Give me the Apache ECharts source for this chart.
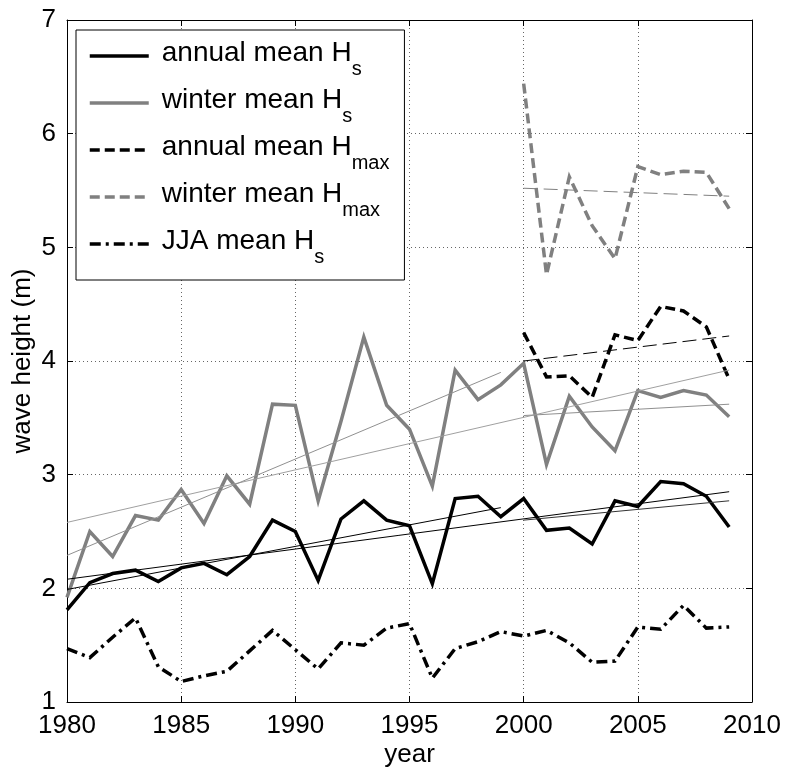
<!DOCTYPE html>
<html><head><meta charset="utf-8">
<script src="https://cdn.jsdelivr.net/npm/echarts@6/dist/echarts.min.js"></script>
<style>html,body{margin:0;padding:0;background:#fff}#chart{width:788px;height:773px}</style>
</head><body><div id="chart"></div>
<script>
// ---- data ----
const years = [1980,1981,1982,1983,1984,1985,1986,1987,1988,1989,1990,1991,1992,1993,1994,1995,1996,1997,1998,1999,2000,2001,2002,2003,2004,2005,2006,2007,2008,2009];
const annualHs = [1.81,2.05,2.13,2.16,2.06,2.18,2.22,2.12,2.28,2.60,2.50,2.07,2.61,2.77,2.60,2.55,2.04,2.79,2.81,2.63,2.79,2.51,2.53,2.39,2.77,2.72,2.94,2.92,2.81,2.54];
const winterHs = [1.92,2.50,2.28,2.64,2.60,2.87,2.57,2.99,2.74,3.62,3.61,2.77,3.47,4.21,3.61,3.40,2.90,3.92,3.66,3.79,3.98,3.09,3.69,3.42,3.21,3.74,3.68,3.74,3.70,3.51];
const jjaHs = [1.47,1.39,1.57,1.74,1.31,1.18,1.23,1.27,1.45,1.63,1.46,1.29,1.52,1.50,1.65,1.69,1.21,1.47,1.53,1.62,1.58,1.63,1.52,1.35,1.36,1.66,1.64,1.85,1.65,1.66];
const yearsMax = [2000,2001,2002,2003,2004,2005,2006,2007,2008,2009];
const annualHmax = [4.25,3.86,3.87,3.68,4.23,4.18,4.48,4.44,4.30,3.84];
const winterHmax = [6.44,4.76,5.62,5.19,4.90,5.71,5.64,5.67,5.66,5.34];

// trend lines (end points)
const trendYearsAll = [1980, 2009];
const trendYearsEarly = [1980, 1999];
const trendYearsLate = [2000, 2009];
const trendAnnualAll = [2.08, 2.85];
const trendAnnualEarly = [1.99, 2.71];
const trendAnnualLate = [2.60, 2.77];
const trendWinterAll = [2.58, 3.92];
const trendWinterEarly = [2.29, 3.90];
const trendWinterLate = [3.52, 3.62];
const trendAnnualHmax = [4.00, 4.22];
const trendWinterHmax = [5.52, 5.45];

const xTicks = {min: 1980, max: 2010, interval: 5};
const yTicks = {min: 1, max: 7, interval: 1};

const seriesNames = ['annual mean Hs','winter mean Hs','annual mean Hmax','winter mean Hmax','JJA mean Hs'];
const legendRich = {
  'annual mean Hs': '{m|annual mean H}{s|s}',
  'winter mean Hs': '{m|winter mean H}{s|s}',
  'annual mean Hmax': '{m|annual mean H}{s|max}',
  'winter mean Hmax': '{m|winter mean H}{s|max}',
  'JJA mean Hs': '{m|JJA mean H}{s|s}'
};

// ---- chart ----
const FONT = '"Liberation Sans", Arial, Helvetica, sans-serif';
const GRAY = '#808080';
const pairs = (xs, ys) => xs.map((x, i) => [x, ys[i]]);

function mainLine(name, xs, ys, color, type) {
  return {name, type: 'line', data: pairs(xs, ys), symbol: 'none', silent: true, z: 3,
    lineStyle: {color, width: 3.5, type, cap: 'butt', join: 'miter'}, itemStyle: {color}};
}
function trendLine(id, xs, ys, color, type) {
  return {name: id, type: 'line', data: pairs(xs, ys), symbol: 'none', silent: true, z: 4,
    lineStyle: {color, width: 1, type}, itemStyle: {color}};
}

const chart = echarts.init(document.getElementById('chart'), null, {renderer: 'canvas'});
chart.setOption({
  animation: false,
  backgroundColor: '#fff',
  grid: {left: 67, right: 36, top: 20, bottom: 67, containLabel: false},
  xAxis: [{
    type: 'value', min: xTicks.min, max: xTicks.max, interval: xTicks.interval,
    name: 'year', nameLocation: 'middle', nameGap: 40, nameMoveOverlap: false,
    nameTextStyle: {fontFamily: FONT, fontSize: 26, color: '#000'},
    axisLine: {show: true, lineStyle: {color: '#000', width: 1}},
    axisTick: {show: true, inside: true, length: 6, lineStyle: {color: '#000'}},
    axisLabel: {fontFamily: FONT, fontSize: 26, color: '#000', margin: 11, showMinLabel: true, showMaxLabel: true,
      formatter: v => String(v)},
    splitLine: {show: true, lineStyle: {color: '#666', type: [1, 3], width: 1}}
  }, {
    type: 'value', position: 'top', min: xTicks.min, max: xTicks.max, interval: xTicks.interval,
    axisLine: {show: true, lineStyle: {color: '#000', width: 1}},
    axisTick: {show: true, inside: true, length: 6, lineStyle: {color: '#000'}},
    axisLabel: {show: false}, splitLine: {show: false}
  }],
  yAxis: [{
    type: 'value', min: yTicks.min, max: yTicks.max, interval: yTicks.interval,
    name: 'wave height (m)', nameLocation: 'middle', nameGap: 31, nameMoveOverlap: false,
    nameTextStyle: {fontFamily: FONT, fontSize: 26, color: '#000'},
    axisLine: {show: true, lineStyle: {color: '#000', width: 1}},
    axisTick: {show: true, inside: true, length: 6, lineStyle: {color: '#000'}},
    axisLabel: {fontFamily: FONT, fontSize: 26, color: '#000', margin: 11, showMinLabel: true, showMaxLabel: true,
      formatter: v => String(v)},
    splitLine: {show: true, lineStyle: {color: '#666', type: [1, 3], width: 1}}
  }, {
    type: 'value', position: 'right', min: yTicks.min, max: yTicks.max, interval: yTicks.interval,
    axisLine: {show: true, lineStyle: {color: '#000', width: 1}},
    axisTick: {show: true, inside: true, length: 6, lineStyle: {color: '#000'}},
    axisLabel: {show: false}, splitLine: {show: false}
  }],
  legend: {
    data: seriesNames, orient: 'vertical', left: 76, top: 30,
    itemWidth: 59, itemHeight: 40, itemGap: 7,
    padding: [9, 15, 13, 12],
    borderColor: '#000', borderWidth: 1, borderRadius: 0, backgroundColor: '#fff',
    selectedMode: false, z: 10,
    itemStyle: {opacity: 0},
    lineStyle: {width: 3.5},
    formatter: n => legendRich[n],
    textStyle: {
      padding: [6, 0, 0, 0],
      rich: {
        m: {fontFamily: FONT, fontSize: 28, color: '#000', lineHeight: 40, verticalAlign: 'top', padding: [0, 0, 0, 8]},
        s: {fontFamily: FONT, fontSize: 20, color: '#000', lineHeight: 1, verticalAlign: 'bottom'}
      }
    }
  },
  series: [
    mainLine('annual mean Hs', years, annualHs, '#000', 'solid'),
    mainLine('winter mean Hs', years, winterHs, GRAY, 'solid'),
    mainLine('annual mean Hmax', yearsMax, annualHmax, '#000', [10, 5]),
    mainLine('winter mean Hmax', yearsMax, winterHmax, GRAY, [10, 5]),
    mainLine('JJA mean Hs', years, jjaHs, '#000', [11, 5, 3, 5]),
    trendLine('t1', trendYearsAll, trendAnnualAll, '#000', 'solid'),
    trendLine('t2', trendYearsEarly, trendAnnualEarly, '#000', 'solid'),
    trendLine('t3', trendYearsLate, trendAnnualLate, '#333', 'solid'),
    trendLine('t4', trendYearsAll, trendWinterAll, '#a0a0a0', 'solid'),
    trendLine('t5', trendYearsEarly, trendWinterEarly, '#909090', 'solid'),
    trendLine('t6', trendYearsLate, trendWinterLate, '#909090', 'solid'),
    trendLine('t7', trendYearsLate, trendAnnualHmax, '#000', [14, 6]),
    trendLine('t8', trendYearsLate, trendWinterHmax, GRAY, [14, 6])
  ]
});
</script></body></html>
